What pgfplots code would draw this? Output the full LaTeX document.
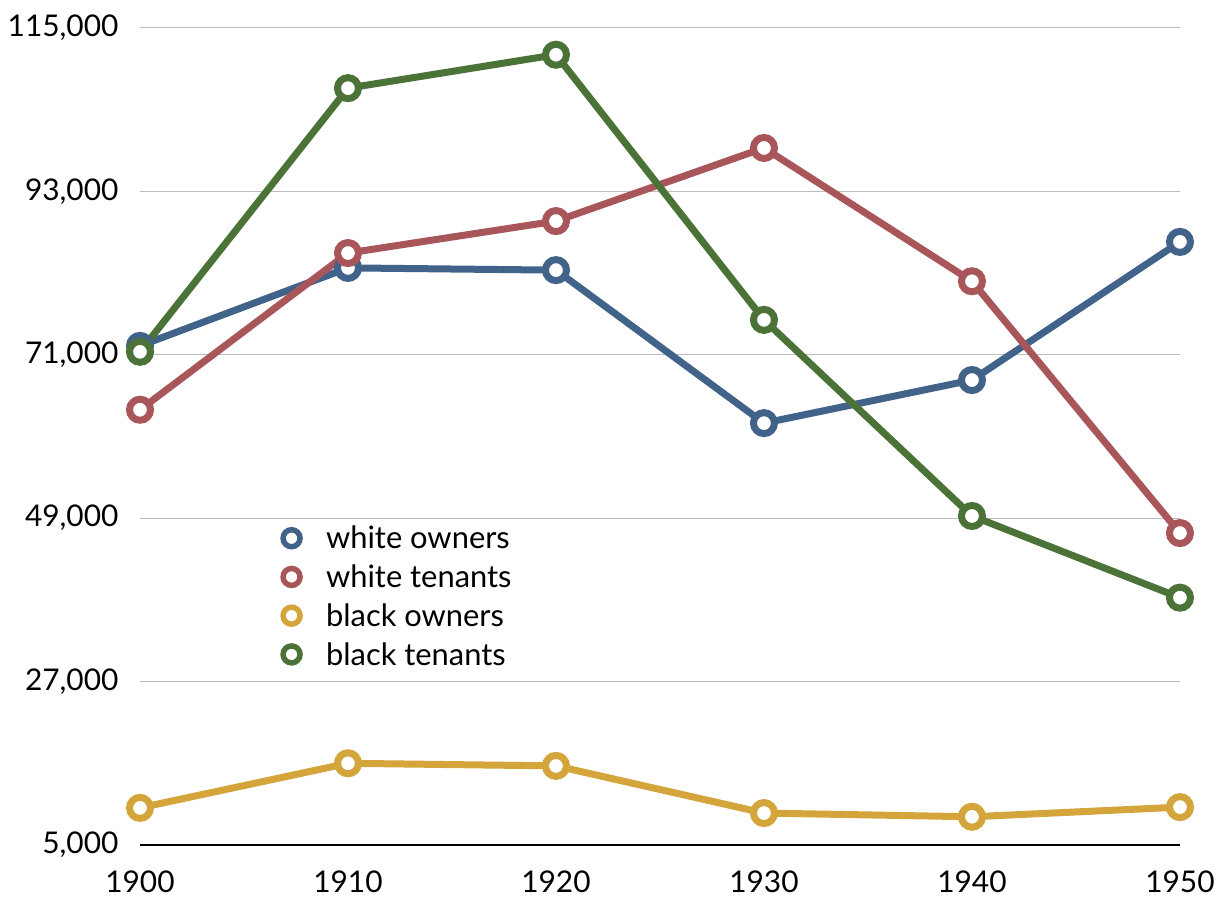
\documentclass[border=0pt]{standalone}
\usepackage{pgfplots}
\pgfplotsset{compat=1.18}
\usepackage{fontspec}
\setmainfont{Lato}
\definecolor{cblue}{HTML}{41638A}
\definecolor{cred}{HTML}{A8565A}
\definecolor{cyel}{HTML}{D4A53A}
\definecolor{cgreen}{HTML}{4B7338}
\definecolor{cgrid}{HTML}{BDBDBD}
\pgfplotsset{
  legmark/.style={only marks, mark=*, mark size=8.5bp, line width=5.5bp, #1, mark options={fill=white},
    legend image code/.code={\path (0cm,0cm) (1.45cm,0cm); \draw[mark repeat=2,mark phase=2,##1] plot coordinates {(0cm,0cm)(0.4cm,0cm)(1.45cm,0cm)};}},
}
\begin{document}
\begin{tikzpicture}
\path[use as bounding box] (-140bp,-53bp) rectangle (1077bp,845bp);
\begin{axis}[
  scale only axis,
  width=1040bp, height=817bp,
  xmin=1900, xmax=1950, ymin=5000, ymax=115000,
  scaled y ticks=false, scaled x ticks=false,
  xtick={1900,1910,1920,1930,1940,1950},
  xticklabels={1900,1910,1920,1930,1940,1950},
  ytick={5000,27000,49000,71000,93000,115000},
  yticklabels={{5,000},{27,000},{49,000},{71,000},{93,000},{115,000}},
  xticklabel style={font=\fontsize{30}{30}\selectfont, yshift=-22bp},
  yticklabel style={font=\fontsize{30}{30}\selectfont, xshift=-18bp},
  major tick length=0pt,
  ymajorgrids, grid style={cgrid, line width=1bp},
  axis x line*=bottom, axis y line*=left,
  x axis line style={black, line width=1.5bp, -},
  y axis line style={draw=none},
  every axis plot/.append style={line width=7bp, mark=*, mark size=10.5bp, mark options={fill=white}},
  legend style={at={(0.132,0.393)}, anchor=north west, draw=none, fill=none, font=\fontsize{31}{31}\selectfont, row sep=10.5bp, inner sep=0pt},
  legend cell align=left,
]
\addplot[cblue, forget plot] coordinates {(1900,72200) (1910,82700) (1920,82400) (1930,61800) (1940,67600) (1950,86200)};
\addplot[cred, forget plot] coordinates {(1900,63600) (1910,84700) (1920,89000) (1930,98850) (1940,80900) (1950,47000)};
\addplot[cyel, forget plot] coordinates {(1900,10000) (1910,16000) (1920,15650) (1930,9300) (1940,8800) (1950,10100)};
\addplot[cgreen, forget plot] coordinates {(1900,71400) (1910,106900) (1920,111400) (1930,75700) (1940,49300) (1950,38300)};
\addlegendimage{legmark=cblue}
\addlegendentry{white owners}
\addlegendimage{legmark=cred}
\addlegendentry{white tenants}
\addlegendimage{legmark=cyel}
\addlegendentry{black owners}
\addlegendimage{legmark=cgreen}
\addlegendentry{black tenants}
\end{axis}
\end{tikzpicture}
\end{document}
